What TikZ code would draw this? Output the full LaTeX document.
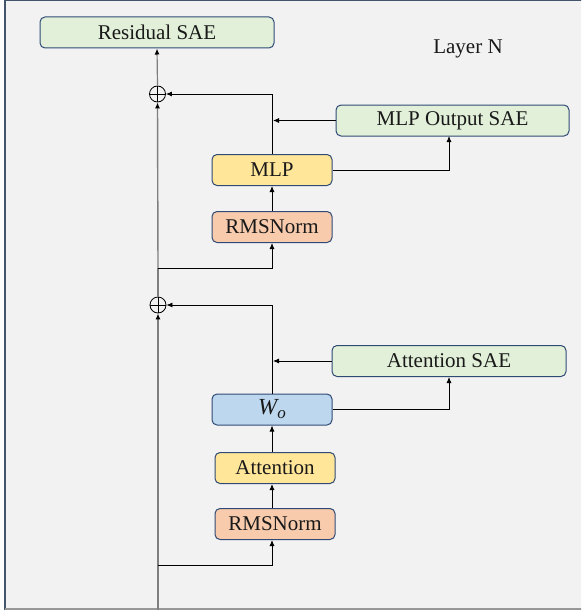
\documentclass[tikz,border=0pt]{standalone}
\usepackage{fontspec}
\setmainfont{Liberation Serif}
\newfontfamily\diagfont{Liberation Serif}
\usetikzlibrary{arrows.meta}
\definecolor{bgc}{HTML}{F2F2F2}
\definecolor{framec}{HTML}{44546A}
\definecolor{edgec}{HTML}{2F4A75}
\definecolor{saec}{HTML}{E2F0D9}
\definecolor{mlpc}{HTML}{FFE699}
\definecolor{normc}{HTML}{F8CBAD}
\definecolor{woc}{HTML}{BDD7EE}
\definecolor{mainc}{HTML}{7F7F7F}
\tikzset{
  txt/.style={font=\diagfont\fontsize{21}{24}\selectfont, text=black!90},
  box/.style={draw=edgec, line width=1pt, rounded corners=5pt, inner sep=0pt, txt},
  sae/.style={box, fill=saec, minimum height=31pt},
  blk/.style={box, minimum width=120pt, minimum height=31pt},
  conn/.style={draw=black, line width=0.8pt, -{Latex[length=6pt,width=5pt,color=black]}},
  mainconn/.style={conn, draw=mainc, line width=1.4pt},
  mainline/.style={draw=mainc, line width=1.4pt},
  plus/.style={circle, draw=black, line width=0.8pt, minimum size=16pt, inner sep=0pt, path picture={\draw[line width=0.8pt] (path picture bounding box.north) -- (path picture bounding box.south) (path picture bounding box.west) -- (path picture bounding box.east);}}
}
\begin{document}
\begin{tikzpicture}[x=1pt,y=-1pt]
\useasboundingbox (0,0) rectangle (581,610);
\begin{scope}
\clip (0,0) rectangle (581,610);
\fill[bgc] (5,0) rectangle (600,610);
\draw[framec, line width=1.5pt] (5,620) -- (5,0.5) -- (600,0.5);
\draw[mainc!80, line width=1.5pt] (5,609.2) -- (600,609.2);
\end{scope}
% nodes
\node[sae, minimum width=234pt] (res) at (157,32.5) {Residual SAE};
\node[txt] (layer) at (468,49) {Layer N};
\node[plus] (p1) at (157.5,94) {};
\node[plus] (p2) at (158,305) {};
\node[sae, minimum width=233pt] (mlpsae) at (452.5,120.5) {MLP Output SAE};
\node[blk, fill=mlpc] (mlp) at (272,170) {MLP};
\node[blk, fill=normc] (norm1) at (272,227) {RMSNorm};
\node[sae, minimum width=234pt] (attsae) at (449,361) {Attention SAE};
\node[blk, fill=woc] (wo) at (272,409.5) {\fontsize{23}{24}\selectfont\itshape W\raisebox{-4pt}{\fontsize{17}{18}\selectfont o}};
\node[blk, fill=mlpc] (att) at (275,468) {Attention};
\node[blk, fill=normc] (norm2) at (275,524) {RMSNorm};
\coordinate (bot) at (158,612);
\coordinate (br1) at (158,268);
\coordinate (br2) at (158,565);
% main residual stream
\draw[mainline] (bot) -- (br2);
\draw[mainconn] (br2) -- (p2.south);
\draw[mainline] (p2.north) -- (br1);
\draw[mainconn] (br1) -- (p1.south);
\draw[mainconn, line width=1.2pt] (p1.north) -- (res.south);
% MLP branch
\draw[conn] (br1) -| (norm1.south);
\draw[conn] (norm1.north) -- (mlp.south);
\draw[conn] (mlp.north) |- (p1.east);
\draw[conn] (mlp.east) -| (449,136);
\draw[conn] (mlpsae.west) -- (273,120.5);
% Attention branch
\draw[conn] (br2) -| (272,540);
\draw[conn] (272,508) -- (272,484);
\draw[conn] (272,452) -- (wo.south);
\draw[conn] (wo.north) |- (p2.east);
\draw[conn] (wo.east) -| (attsae.south);
\draw[conn] (attsae.west) -- (273,361);
\end{tikzpicture}
\end{document}
